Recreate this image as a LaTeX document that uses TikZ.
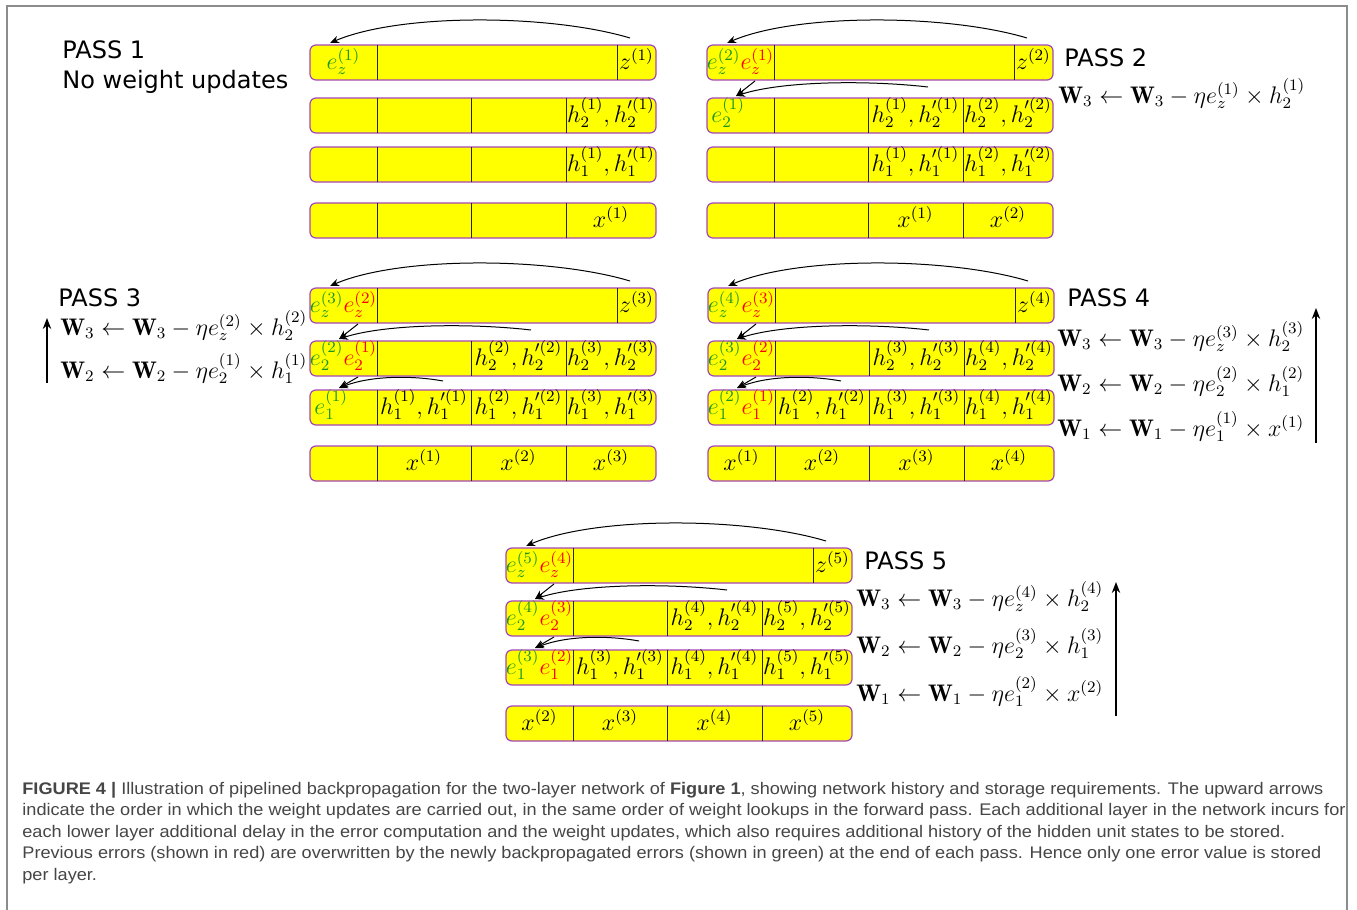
\documentclass[tikz,border=0pt]{standalone}
\usepackage{fontspec}
\usepackage{graphicx}
\usetikzlibrary{arrows.meta}
\newfontfamily\passfont{DejaVu Sans}
\newfontfamily\capfont{Liberation Sans}
\definecolor{rowfill}{RGB}{255,255,0}
\definecolor{rowedge}{RGB}{165,70,185}
\definecolor{egreen}{RGB}{30,150,30}
\definecolor{ered}{RGB}{255,0,0}
\definecolor{captext}{RGB}{70,70,70}
\definecolor{framegray}{RGB}{140,140,140}

% new error (green) and overwritten error (red)
\newcommand\errnew[1]{\textcolor{egreen}{#1}}
\newcommand\errold[1]{\textcolor{ered}{#1}}
% hidden state and its derivative
\newcommand\hpair[2]{h_{#1}^{(#2)},h_{#1}^{\prime(#2)}}
% weight update rule
\newcommand\wupd[4]{\mathbf{W}_{#1}\leftarrow\mathbf{W}_{#1}-\eta e_{#2}^{(#3)}\times #4}

\tikzset{
  rowbox/.style={draw=rowedge, fill=rowfill, line width=0.6pt, rounded corners=3pt,
    minimum width=173pt, minimum height=17.5pt, inner sep=0pt},
  divider/.style={draw=black!85, line width=0.45pt},
  cell/.style={anchor=base, inner sep=0pt, font=\fontsize{12}{14}\selectfont},
  passlabel/.style={anchor=base west, inner sep=0pt, font=\passfont\fontsize{12}{14}\selectfont},
  formula/.style={anchor=base west, inner sep=0pt, font=\fontsize{12}{14}\selectfont},
  backarc/.style={-{Stealth[length=4.5pt,width=3.6pt]}, line width=0.5pt},
  orderarrow/.style={-{Stealth[length=5.5pt,width=4.2pt]}, line width=0.8pt},
  capline/.style={anchor=base west, inner sep=0pt, text=captext,
    font=\capfont\fontsize{8.4}{10}\selectfont},
}

% four storage rows of one pass; #1 prefix, #2 left x, #3 top y
\newcommand\blockrows[3]{%
  \node[rowbox] (#1z) at ({#2+173},{#3+17.5}) {};
  \node[rowbox] (#1b) at ({#2+173},{#3+70.5}) {};
  \node[rowbox] (#1a) at ({#2+173},{#3+119.5}) {};
  \node[rowbox] (#1x) at ({#2+173},{#3+175.5}) {};
  \draw[divider] ({#2+67},{#3}) -- ++(0,35) ({#2+307},{#3}) -- ++(0,35);
  \foreach \t in {53,102,158}
    \draw[divider] ({#2+67},{#3+\t}) -- ++(0,35) ({#2+161},{#3+\t}) -- ++(0,35)
                   ({#2+256},{#3+\t}) -- ++(0,35);
}
% cell entries, centred or flush left
\newcommand\cellc[4]{\node[cell] (#1) at ({\blkx+#2},{\blky+#3+24}) {$#4$};}
\newcommand\celll[4]{\node[cell,anchor=base west] (#1) at ({\blkx+#2},{\blky+#3+24}) {$#4$};}
% output error sent back to the first cell of the top row
\newcommand\zarc[1]{%
  \coordinate (#1zs) at ({\blkx+320},{\blky-7});
  \coordinate (#1zt) at ({\blkx+20},{\blky-2});
  \draw[backarc] (#1zs) .. controls ({\blkx+240},{\blky-31}) and ({\blkx+90},{\blky-32}) .. (#1zt);}
% error propagated into layer 2
\newcommand\sendtwo[1]{%
  \coordinate (#1ds) at ({\blkx+48},{\blky+36});
  \coordinate (#1dt) at ({\blkx+29},{\blky+51});
  \coordinate (#1bs) at ({\blkx+221},{\blky+42});
  \draw[backarc] (#1ds) -- (#1dt);
  \draw[backarc] (#1bs) .. controls ({\blkx+160},{\blky+35}) and ({\blkx+75},{\blky+36}) .. (#1dt);}
% error propagated into layer 1
\newcommand\sendone[1]{%
  \coordinate (#1es) at ({\blkx+48},{\blky+89});
  \coordinate (#1et) at ({\blkx+29},{\blky+100});
  \coordinate (#1as) at ({\blkx+133},{\blky+93});
  \draw[backarc] (#1es) -- (#1et);
  \draw[backarc] (#1as) .. controls ({\blkx+100},{\blky+87}) and ({\blkx+60},{\blky+88}) .. (#1et);}

\newsavebox\capbox
\newdimen\capw

\begin{document}
% horizontal condensing factor of the caption font
\sbox\capbox{\capfont\fontsize{8.4}{10}\selectfont\textbf{FIGURE 4 |} Illustration of pipelined backpropagation for the two-layer network of \textbf{Figure 1}, showing network history and storage requirements. The upward arrows}%
\capw=\wd\capbox
\pgfmathsetmacro\capsx{650.5/\capw}%
\begin{tikzpicture}[x=0.5pt,y=-0.5pt]
\fill[white] (0,0) rectangle (1357,910);
\useasboundingbox (0,0) rectangle (1357,910);
\draw[framegray, line width=0.6pt] (7,910) -- (7,6) -- (1347,6) -- (1347,910);

% ---------------- pass 1
\def\blkx{310}\def\blky{45}
\blockrows{p1}{310}{45}
\cellc{p1ez}{33.5}{0}{\errnew{e_z^{(1)}}}
\cellc{p1zv}{326.5}{0}{z^{(1)}}
\cellc{p1h2}{301}{53}{\hpair{2}{1}}
\cellc{p1h1}{301}{102}{\hpair{1}{1}}
\cellc{p1x1}{301}{158}{x^{(1)}}
\zarc{p1}
\node[passlabel] (p1lab) at (62,59) {PASS 1};
\node[passlabel] (p1sub) at (62,89) {No weight updates};

% ---------------- pass 2
\def\blkx{707}\def\blky{45}
\blockrows{p2}{707}{45}
\cellc{p2ez}{33.5}{0}{\errnew{e_z^{(2)}}\errold{e_z^{(1)}}}
\cellc{p2zv}{326.5}{0}{z^{(2)}}
\celll{p2e2}{4}{53}{\errnew{e_2^{(1)}}}
\cellc{p2h2a}{208.5}{53}{\hpair{2}{1}}
\cellc{p2h2b}{301}{53}{\hpair{2}{2}}
\cellc{p2h1a}{208.5}{102}{\hpair{1}{1}}
\cellc{p2h1b}{301}{102}{\hpair{1}{2}}
\cellc{p2x1}{208.5}{158}{x^{(1)}}
\cellc{p2x2}{301}{158}{x^{(2)}}
\zarc{p2}\sendtwo{p2}
\node[passlabel] (p2lab) at (1064,66) {PASS 2};
\node[formula] (p2w3) at (1058,103) {$\wupd{3}{z}{1}{h_2^{(1)}}$};

% ---------------- pass 3
\def\blkx{310}\def\blky{288}
\blockrows{p3}{310}{288}
\cellc{p3ez}{33.5}{0}{\errnew{e_z^{(3)}}\errold{e_z^{(2)}}}
\cellc{p3zv}{326.5}{0}{z^{(3)}}
\cellc{p3e2}{33.5}{53}{\errnew{e_2^{(2)}}\errold{e_2^{(1)}}}
\cellc{p3h2a}{208.5}{53}{\hpair{2}{2}}
\cellc{p3h2b}{301}{53}{\hpair{2}{3}}
\celll{p3e1}{4}{102}{\errnew{e_1^{(1)}}}
\cellc{p3h1a}{114}{102}{\hpair{1}{1}}
\cellc{p3h1b}{208.5}{102}{\hpair{1}{2}}
\cellc{p3h1c}{301}{102}{\hpair{1}{3}}
\cellc{p3x1}{114}{158}{x^{(1)}}
\cellc{p3x2}{208.5}{158}{x^{(2)}}
\cellc{p3x3}{301}{158}{x^{(3)}}
\zarc{p3}\sendtwo{p3}\sendone{p3}
\node[passlabel] (p3lab) at (58,306) {PASS 3};
\node[formula] (p3w3) at (60,335) {$\wupd{3}{z}{2}{h_2^{(2)}}$};
\node[formula] (p3w2) at (60,378) {$\wupd{2}{2}{1}{h_1^{(1)}}$};
\coordinate (p3up0) at (47,383);
\coordinate (p3up1) at (47,318);
\draw[orderarrow] (p3up0) -- (p3up1);

% ---------------- pass 4
\def\blkx{708}\def\blky{288}
\blockrows{p4}{708}{288}
\cellc{p4ez}{33.5}{0}{\errnew{e_z^{(4)}}\errold{e_z^{(3)}}}
\cellc{p4zv}{326.5}{0}{z^{(4)}}
\cellc{p4e2}{33.5}{53}{\errnew{e_2^{(3)}}\errold{e_2^{(2)}}}
\cellc{p4h2a}{208.5}{53}{\hpair{2}{3}}
\cellc{p4h2b}{301}{53}{\hpair{2}{4}}
\cellc{p4e1}{33.5}{102}{\errnew{e_1^{(2)}}\errold{e_1^{(1)}}}
\cellc{p4h1a}{114}{102}{\hpair{1}{2}}
\cellc{p4h1b}{208.5}{102}{\hpair{1}{3}}
\cellc{p4h1c}{301}{102}{\hpair{1}{4}}
\cellc{p4x1}{33.5}{158}{x^{(1)}}
\cellc{p4x2}{114}{158}{x^{(2)}}
\cellc{p4x3}{208.5}{158}{x^{(3)}}
\cellc{p4x4}{301}{158}{x^{(4)}}
\zarc{p4}\sendtwo{p4}\sendone{p4}
\node[passlabel] (p4lab) at (1067,306) {PASS 4};
\node[formula] (p4w3) at (1057,346) {$\wupd{3}{z}{3}{h_2^{(3)}}$};
\node[formula] (p4w2) at (1057,391) {$\wupd{2}{2}{2}{h_1^{(2)}}$};
\node[formula] (p4w1) at (1057,436) {$\wupd{1}{1}{1}{x^{(1)}}$};
\coordinate (p4up0) at (1316,443);
\coordinate (p4up1) at (1316,308);
\draw[orderarrow] (p4up0) -- (p4up1);

% ---------------- pass 5
\def\blkx{506}\def\blky{548}
\blockrows{p5}{506}{548}
\cellc{p5ez}{33.5}{0}{\errnew{e_z^{(5)}}\errold{e_z^{(4)}}}
\cellc{p5zv}{326.5}{0}{z^{(5)}}
\cellc{p5e2}{33.5}{53}{\errnew{e_2^{(4)}}\errold{e_2^{(3)}}}
\cellc{p5h2a}{208.5}{53}{\hpair{2}{4}}
\cellc{p5h2b}{301}{53}{\hpair{2}{5}}
\cellc{p5e1}{33.5}{102}{\errnew{e_1^{(3)}}\errold{e_1^{(2)}}}
\cellc{p5h1a}{114}{102}{\hpair{1}{3}}
\cellc{p5h1b}{208.5}{102}{\hpair{1}{4}}
\cellc{p5h1c}{301}{102}{\hpair{1}{5}}
\cellc{p5x1}{33.5}{158}{x^{(2)}}
\cellc{p5x2}{114}{158}{x^{(3)}}
\cellc{p5x3}{208.5}{158}{x^{(4)}}
\cellc{p5x4}{301}{158}{x^{(5)}}
\zarc{p5}\sendtwo{p5}\sendone{p5}
\node[passlabel] (p5lab) at (864,569) {PASS 5};
\node[formula] (p5w3) at (856,606) {$\wupd{3}{z}{4}{h_2^{(4)}}$};
\node[formula] (p5w2) at (856,653) {$\wupd{2}{2}{3}{h_1^{(3)}}$};
\node[formula] (p5w1) at (856,701) {$\wupd{1}{1}{2}{x^{(2)}}$};
\coordinate (p5up0) at (1116,716);
\coordinate (p5up1) at (1116,582);
\draw[orderarrow] (p5up0) -- (p5up1);

% ---------------- caption
\node[capline] (cap1) at (22,794) {\scalebox{\capsx}[1]{\textbf{FIGURE 4 |} Illustration of pipelined backpropagation for the two-layer network of \textbf{Figure 1}, showing network history and storage requirements. The upward arrows}};
\node[capline] (cap2) at (22,815.5) {\scalebox{\capsx}[1]{indicate the order in which the weight updates are carried out, in the same order of weight lookups in the forward pass. Each additional layer in the network incurs for}};
\node[capline] (cap3) at (22,837) {\scalebox{\capsx}[1]{each lower layer additional delay in the error computation and the weight updates, which also requires additional history of the hidden unit states to be stored.}};
\node[capline] (cap4) at (22,858.5) {\scalebox{\capsx}[1]{Previous errors (shown in red) are overwritten by the newly backpropagated errors (shown in green) at the end of each pass. Hence only one error value is stored}};
\node[capline] (cap5) at (22,880) {\scalebox{\capsx}[1]{per layer.}};
\end{tikzpicture}
\end{document}
